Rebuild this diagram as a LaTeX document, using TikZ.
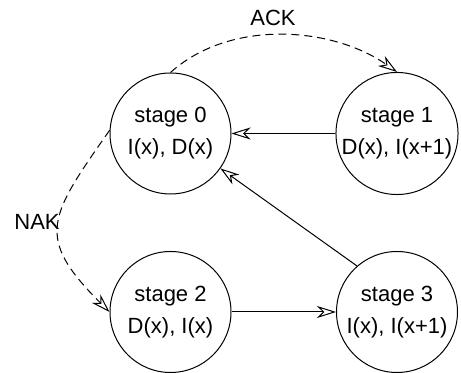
\documentclass[tikz,border=0pt]{standalone}
\usepackage{fontspec}
\setmainfont{Liberation Sans}
\usetikzlibrary{arrows.meta}
\begin{document}
\begin{tikzpicture}[x=0.5pt, y=0.5pt, line width=0.5pt,
    stagenode/.style={draw, circle, minimum size=60.5pt, inner sep=0pt, align=center,
        font=\fontsize{11}{16}\selectfont},
    edgelabel/.style={font=\fontsize{11}{13}\selectfont},
    link/.style={-{Stealth[open, length=9.5pt, width=6pt, inset=3pt]}},
    retry/.style={link, dash pattern=on 4pt off 2.5pt}]
    \useasboundingbox (0,0) rectangle (461,373);

    % the four stages
    \node[stagenode] (s0) at (170.5,239.5) {stage 0\\I(x), D(x)};
    \node[stagenode] (s1) at (397,239.5) {stage 1\\D(x), I(x+1)};
    \node[stagenode] (s2) at (170.5,61) {stage 2\\D(x), I(x)};
    \node[stagenode] (s3) at (397,61) {stage 3\\I(x), I(x+1)};

    % normal flow
    \draw[link] (s1) -- (s0);
    \draw[link] (s2) -- (s3);
    \draw[link] (s3.131) -- (s0.-35);

    % acknowledgements
    \draw[retry] (s0.north) to[out=42, in=145, looseness=0.9] (s1.north);
    \draw[retry] (s0.177) to[out=235, in=135, looseness=1.5] (s2.west);
    \node[edgelabel] (ack) at (273,355) {ACK};
    \node[edgelabel] (nak) at (37,151) {NAK};
\end{tikzpicture}
\end{document}
